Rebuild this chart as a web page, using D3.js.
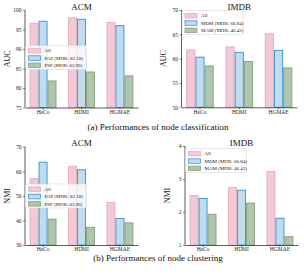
<!DOCTYPE html>
<html>
<head>
<meta charset="utf-8">
<script src="https://cdn.jsdelivr.net/npm/d3@7"></script>
<style>
  body { margin: 0; background: #fff; }
  svg { display: block; font-family: "Liberation Serif", "DejaVu Serif", serif; }
</style>
</head>
<body>
<div id="chart"></div>
<script>
const width = 304;
const height = 274;

const methods = ["HeCo", "HDMI", "HGMAE"];
const acmSeries = ["All", "PAP (MHR: 82.18)", "PSP (MHR: 63.96)"];
const imdbSeries = ["All", "MDM (MHR: 66.84)", "MAM (MHR: 46.42)"];

// values per method, one per series
const acmAuc = [
  [96.6, 97.1, 81.8],
  [98.0, 97.6, 84.1],
  [96.8, 96.0, 83.1],
];
const imdbAuc = [
  [61.8, 60.3, 58.5],
  [62.4, 61.3, 59.4],
  [65.1, 61.7, 58.1],
];
const acmNmi = [
  [57.0, 63.7, 40.5],
  [62.0, 60.6, 37.2],
  [47.3, 40.8, 39.0],
];
const imdbNmi = [
  [2.50, 2.41, 1.93],
  [2.74, 2.66, 2.27],
  [3.23, 1.81, 1.25],
];

const acmAucTicks = [75, 80, 85, 90, 95, 100];
const imdbAucTicks = [50, 55, 60, 65, 70];
const acmNmiTicks = [30, 40, 50, 60, 70];
const imdbNmiTicks = [1, 2, 3, 4];

const fills = ["#f2cad6", "#c3dced", "#adc5b3"];
const strokes = ["#e9aec1", "#3d9bd9", "#8ea572"];

const svg = d3
  .select("#chart")
  .append("svg")
  .attr("width", width)
  .attr("height", height);

const drawPanel = (opt) => {
  const g = svg.append("g");

  const xScale = d3
    .scaleBand()
    .domain(methods)
    .range(opt.xRange)
    .paddingInner(0.3)
    .paddingOuter(0.12);

  const subScale = d3
    .scaleBand()
    .domain(d3.range(3))
    .range([0, xScale.bandwidth()]);

  const yScale = d3
    .scaleLinear()
    .domain(d3.extent(opt.ticks))
    .range(opt.yRange);

  // bars
  g.selectAll("g.group")
    .data(opt.values)
    .join("g")
    .attr("class", "group")
    .attr("transform", (d, i) => `translate(${xScale(methods[i])},0)`)
    .selectAll("rect")
    .data((d) => d)
    .join("rect")
    .attr("x", (d, i) => subScale(i) + 0.5)
    .attr("width", subScale.bandwidth() - 1)
    .attr("y", (d) => yScale(d))
    .attr("height", (d) => yScale.range()[0] - yScale(d))
    .attr("fill", (d, i) => fills[i])
    .attr("stroke", (d, i) => strokes[i])
    .attr("stroke-width", 1);

  // axes
  const yAxis = g
    .append("g")
    .attr("transform", `translate(${opt.xRange[0]},0)`)
    .call(
      d3.axisLeft(yScale)
        .tickValues(opt.ticks)
        .tickFormat(d3.format("d"))
        .tickSize(2)
        .tickPadding(1.5)
    );

  const xAxis = g
    .append("g")
    .attr("transform", `translate(0,${opt.yRange[0]})`)
    .call(d3.axisBottom(xScale).tickSize(2).tickPadding(0.5).tickSizeOuter(0));

  [xAxis, yAxis].forEach((a) => {
    a.select(".domain").attr("stroke", "#333").attr("stroke-width", 0.8);
    a.selectAll(".tick line").attr("stroke", "#333").attr("stroke-width", 0.6);
    a.selectAll(".tick text")
      .attr("fill", "#222")
      .style("font-size", "5.5px")
      .style("font-family", "Liberation Serif, serif");
  });
  yAxis.select(".domain").attr("d", `M0,${opt.yRange[0]}V${opt.yRange[1]}`);

  // title
  g.append("text")
    .attr("x", (opt.xRange[0] + opt.xRange[1]) / 2)
    .attr("y", opt.yRange[1] - 0.5)
    .attr("text-anchor", "middle")
    .style("font-size", "9px")
    .attr("fill", "#111")
    .text(opt.title);

  // y label
  g.append("text")
    .attr("transform", `rotate(-90)`)
    .attr("x", -(opt.yRange[0] + opt.yRange[1]) / 2)
    .attr("y", opt.xRange[0] - 15.5)
    .attr("text-anchor", "middle")
    .style("font-size", "8px")
    .attr("fill", "#111")
    .text(opt.yLabel);

  // legend
  const lg = g
    .append("g")
    .attr("transform", `translate(${opt.legend[0]},${opt.legend[1]})`);

  lg.append("rect")
    .attr("x", 0)
    .attr("y", 0)
    .attr("width", 61)
    .attr("height", 24)
    .attr("rx", 1.5)
    .attr("fill", "#fff")
    .attr("fill-opacity", 0.8)
    .attr("stroke", "#d8d8d8")
    .attr("stroke-width", 0.6);

  const items = lg
    .selectAll("g.item")
    .data(opt.series)
    .join("g")
    .attr("class", "item")
    .attr("transform", (d, i) => `translate(3,${5 + i * 7.3})`);

  items
    .append("rect")
    .attr("x", 0)
    .attr("y", -2)
    .attr("width", 12)
    .attr("height", 4.5)
    .attr("fill", (d, i) => fills[i])
    .attr("stroke", (d, i) => strokes[i])
    .attr("stroke-width", 0.8);

  items
    .append("text")
    .attr("x", 16)
    .attr("y", 0.3)
    .attr("dy", "0.32em")
    .style("font-size", "5px")
    .attr("fill", "#222")
    .text((d) => d);
};

drawPanel({
  title: "ACM",
  yLabel: "AUC",
  series: acmSeries,
  values: acmAuc,
  ticks: acmAucTicks,
  xRange: [25, 138],
  yRange: [107.5, 10],
  legend: [25.5, 45.5],
});

drawPanel({
  title: "IMDB",
  yLabel: "AUC",
  series: imdbSeries,
  values: imdbAuc,
  ticks: imdbAucTicks,
  xRange: [181.5, 297],
  yRange: [107.3, 10],
  legend: [182, 10.5],
});

drawPanel({
  title: "ACM",
  yLabel: "NMI",
  series: acmSeries,
  values: acmNmi,
  ticks: acmNmiTicks,
  xRange: [25, 138],
  yRange: [245, 146.7],
  legend: [25.5, 184],
});

drawPanel({
  title: "IMDB",
  yLabel: "NMI",
  series: imdbSeries,
  values: imdbNmi,
  ticks: imdbNmiTicks,
  xRange: [185, 298],
  yRange: [245, 146],
  legend: [185.5, 148.5],
});

const captions = [
  { text: "(a) Performances of node classification", y: 130 },
  { text: "(b) Performances of node clustering", y: 260.5 },
];

svg
  .selectAll("text.caption")
  .data(captions)
  .join("text")
  .attr("class", "caption")
  .attr("x", 158)
  .attr("y", (d) => d.y)
  .attr("text-anchor", "middle")
  .style("font-size", "9px")
  .attr("fill", "#111")
  .text((d) => d.text);
</script>
</body>
</html>
